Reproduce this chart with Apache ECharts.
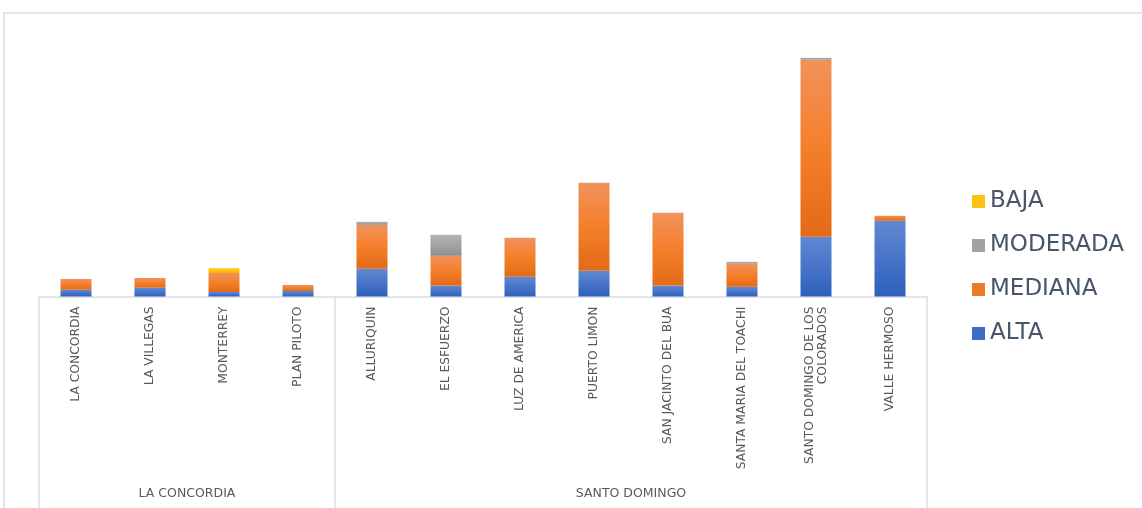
<!DOCTYPE html>
<html>
<head>
<meta charset="utf-8">
<script src="https://cdn.jsdelivr.net/npm/echarts@6/dist/echarts.min.js"></script>
<style>
html,body{margin:0;padding:0;background:#ffffff;}
#chart{width:1142px;height:508px;}
</style>
</head>
<body>
<div id="chart"></div>
<script>
// Categories (sub-level) and groups (top level)
const categories = ['LA CONCORDIA','LA VILLEGAS','MONTERREY','PLAN PILOTO','ALLURIQUIN','EL ESFUERZO','LUZ DE AMERICA','PUERTO LIMON','SAN JACINTO DEL BUA','SANTA MARIA DEL TOACHI','SANTO DOMINGO DE LOS\nCOLORADOS','VALLE HERMOSO'];
const groups = ['LA CONCORDIA','SANTO DOMINGO'];
const groupSizes = [4, 8];

// Series values
const alta     = [6.8, 8.8, 4.5, 5.5, 27.7, 11.0, 19.7, 25.7, 11.0, 9.7, 59.7, 75.7];
const mediana  = [10.7, 9.7, 19.0, 6.0, 44.0, 29.7, 39.0, 88.0, 72.7, 23.3, 177.3, 5.0];
const moderada = [0, 0, 0, 0, 3.0, 21.0, 0, 0, 0, 1.7, 1.7, 0];
const baja     = [0, 0, 5.0, 0, 0, 0, 0, 0, 0, 0, 0, 0];

const seriesNames = ['ALTA','MEDIANA','MODERADA','BAJA'];
const legendOrder = ['BAJA','MODERADA','MEDIANA','ALTA'];

function grad(top, mid, bottom) {
  return new echarts.graphic.LinearGradient(0, 0, 0, 1, [
    {offset: 0, color: top}, {offset: 0.5, color: mid}, {offset: 1, color: bottom}
  ]);
}
const fills = [
  grad('#6189d2', '#4774c9', '#2e60bb'),
  grad('#f1925c', '#f47f2a', '#e36a16'),
  grad('#b3b3b3', '#a3a3a3', '#8e8e8e'),
  grad('#ffd43e', '#fcc419', '#f2b400')
];
const legendColors = ['#3d6cc4', '#ef7a2c', '#a2a2a2', '#fbc20f'];
const dataSets = [alta, mediana, moderada, baja];

// group boundaries & centers in category units
const bounds = [0];
groupSizes.forEach(s => bounds.push(bounds[bounds.length - 1] + s));
const centers = groupSizes.map((s, i) => bounds[i] + s / 2);

const lineColor = '#d9dee7';
const textColor = '#595959';
const font = 'DejaVu Sans';

const chart = echarts.init(document.getElementById('chart'));
chart.setOption({
  animation: false,
  backgroundColor: '#ffffff',
  textStyle: {fontFamily: font},
  graphic: [{
    type: 'rect', z: -10, silent: true,
    shape: {x: 4, y: 13, width: 1200, height: 600},
    style: {fill: 'none', stroke: '#e1e5ee', lineWidth: 2}
  }],
  legend: {
    orient: 'vertical',
    left: 967, top: 185,
    itemWidth: 13, itemHeight: 13, itemGap: 21,
    icon: 'rect',
    data: legendOrder.map(n => ({name: n, itemStyle: {color: legendColors[seriesNames.indexOf(n)]}})),
    textStyle: {fontSize: 23, color: '#48566a', fontFamily: font, padding: [0, 0, 0, 0]}
  },
  grid: {left: 39, right: 215, top: 14, bottom: 211.5, containLabel: false},
  xAxis: [{
    type: 'category',
    data: categories,
    axisLine: {show: true, lineStyle: {color: lineColor, width: 1.5}},
    axisTick: {show: false},
    axisLabel: {interval: 0, rotate: 90, fontSize: 12.3, color: textColor, margin: 10, lineHeight: 13, fontFamily: font}
  }, {
    type: 'value',
    min: 0, max: categories.length,
    position: 'bottom',
    axisLine: {show: false},
    splitLine: {show: false},
    axisTick: {show: true, length: 215, customValues: bounds, lineStyle: {color: lineColor, width: 1.5}},
    axisLabel: {
      show: true, customValues: centers, margin: 191, fontSize: 12.5, color: textColor, fontFamily: font,
      formatter: v => groups[centers.indexOf(v)] || ''
    }
  }],
  yAxis: {type: 'value', min: 0, max: 282.5, show: false, splitLine: {show: false}},
  series: seriesNames.map((name, i) => ({
    name: name,
    type: 'bar',
    stack: 'total',
    xAxisIndex: 0,
    barWidth: 31,
    data: dataSets[i],
    itemStyle: {color: fills[i]}
  }))
});
</script>
</body>
</html>
